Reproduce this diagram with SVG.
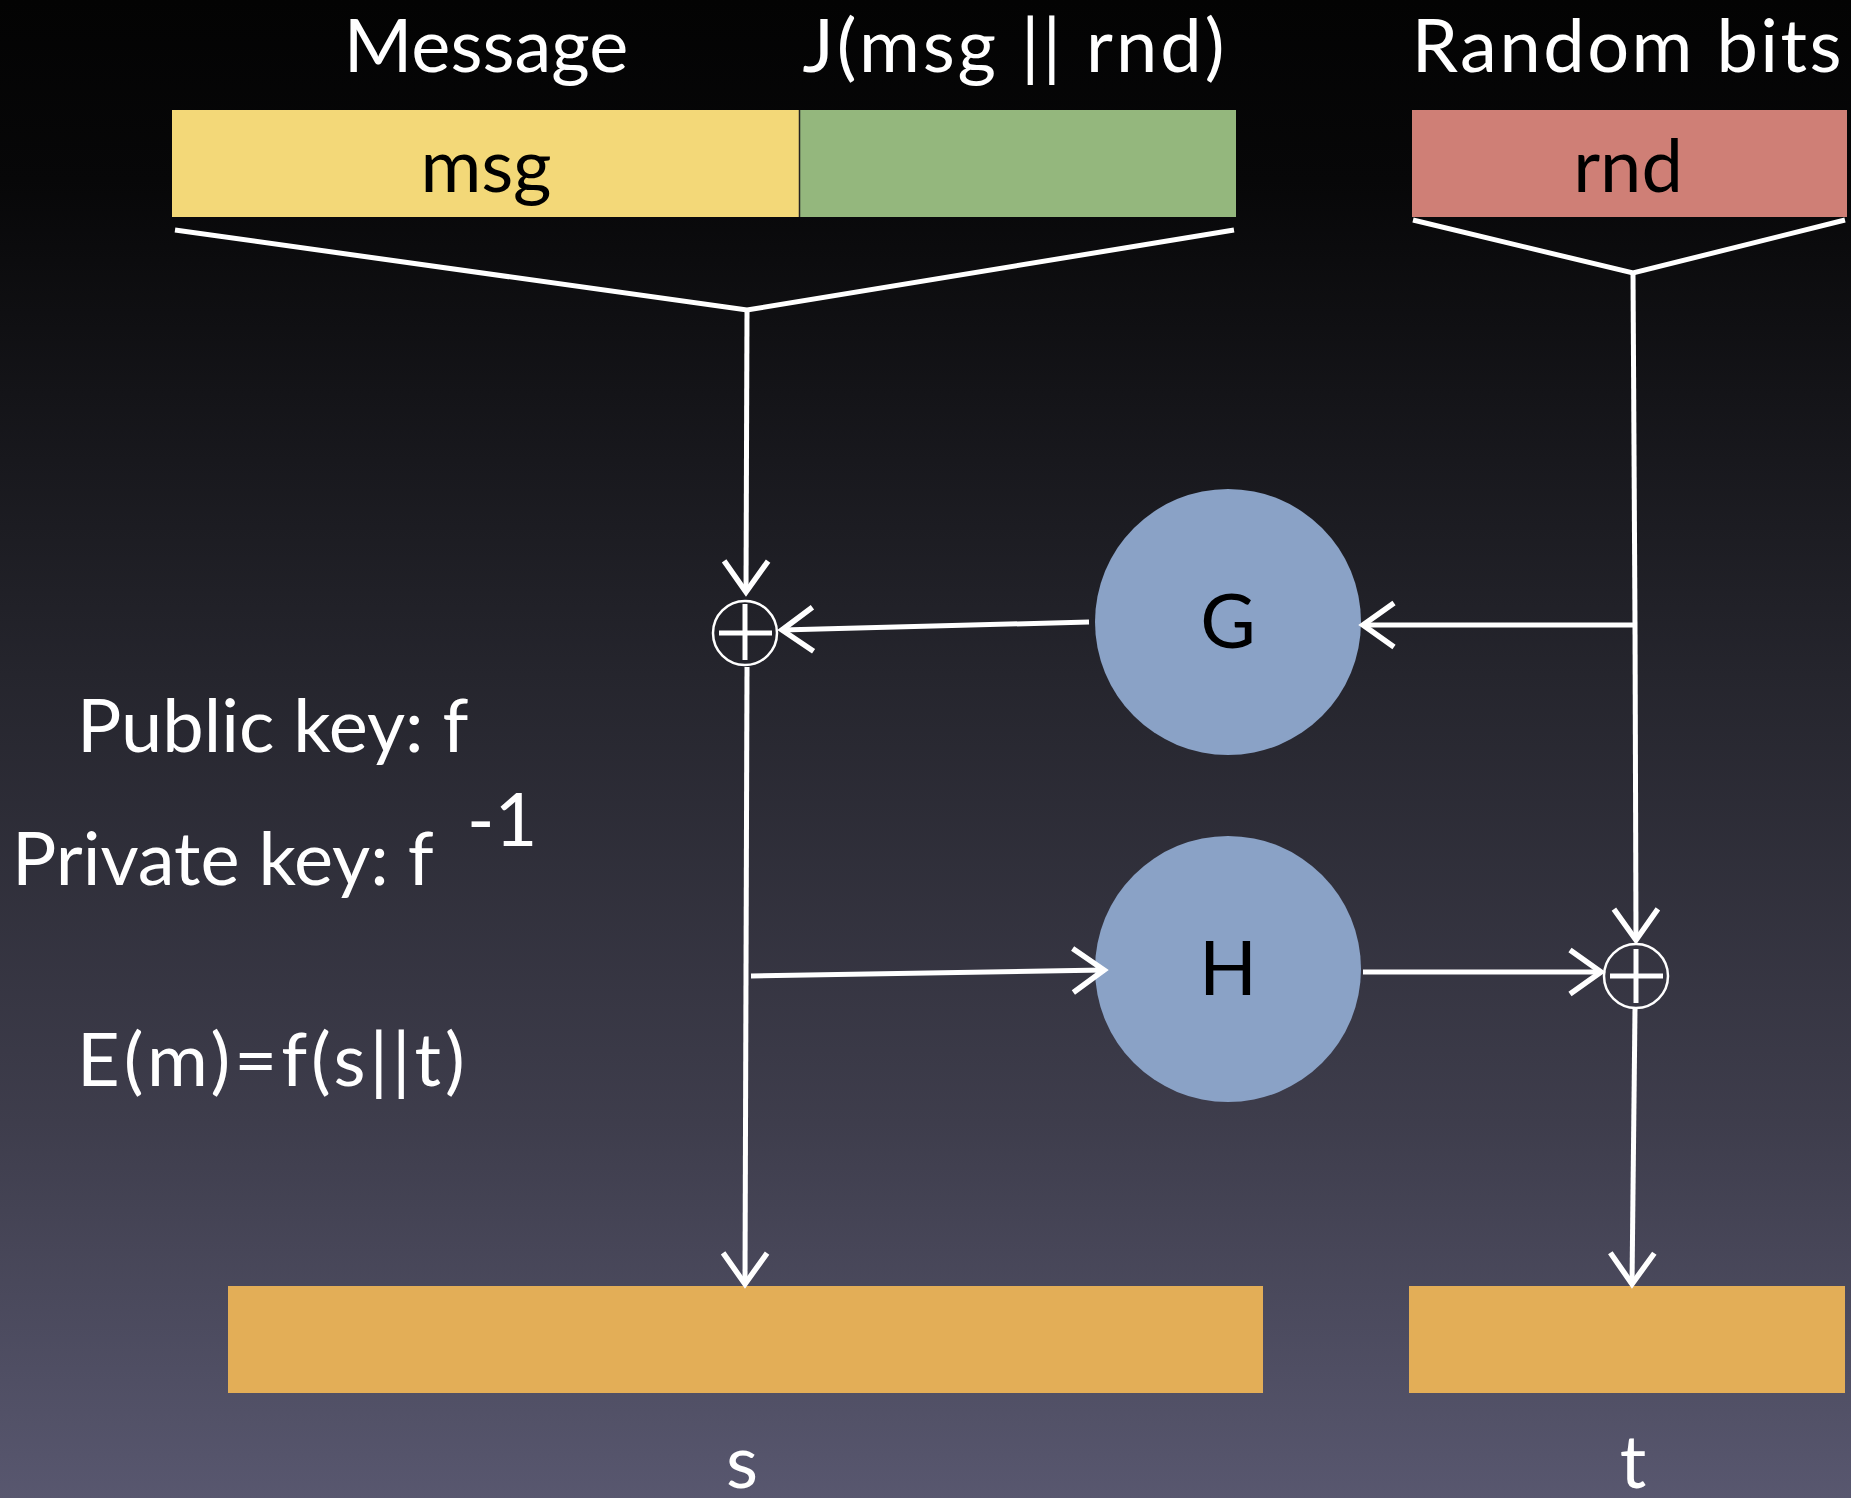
<svg xmlns="http://www.w3.org/2000/svg" width="1851" height="1498" viewBox="0 0 1851 1498">
<defs>
  <linearGradient id="bg" x1="0" y1="0" x2="0" y2="1">
    <stop offset="0" stop-color="#030303"/>
    <stop offset="0.12" stop-color="#070708"/>
    <stop offset="0.45" stop-color="#25252d"/>
    <stop offset="0.75" stop-color="#3e3d4c"/>
    <stop offset="1" stop-color="#58576f"/>
  </linearGradient>
  <marker id="arr" markerUnits="userSpaceOnUse" markerWidth="80" markerHeight="80" viewBox="-40 -40 80 80" refX="0" refY="0" orient="auto" overflow="visible">
    <path d="M-31,-22 L0,0 L-31,22" fill="none" stroke="#fff" stroke-width="5.5"/>
  </marker>
  <style>
    .t{font-family:Lato,"Liberation Sans",sans-serif;fill:#fff}
    .d{font-family:Lato,"Liberation Sans",sans-serif;fill:#000}
    .ln{stroke:#fff;stroke-width:5;fill:none}
    .ar{stroke:#fff;stroke-width:5;fill:none;marker-end:url(#arr)}
    .xc{fill:none;stroke:#fff;stroke-width:2.5}
    .xp{stroke:#fff;stroke-width:5}
    .fn{fill:#8aa2c6}
  </style>
</defs>
<rect x="0" y="0" width="1851" height="1498" fill="url(#bg)"/>

<g id="titles">
  <text class="t" x="486" y="72" font-size="74" text-anchor="middle">Message</text>
  <text class="t" x="1015" y="72" font-size="74" text-anchor="middle" letter-spacing="3">J(msg || rnd)</text>
  <text class="t" x="1628" y="72" font-size="74" text-anchor="middle" letter-spacing="2.5">Random bits</text>
</g>

<g id="msg">
  <rect x="172" y="110" width="627" height="107" fill="#f3d878"/>
  <text class="d" x="486" y="192" font-size="74" text-anchor="middle">msg</text>
</g>
<g id="pad">
  <rect x="800" y="110" width="436" height="107" fill="#94b77d"/>
</g>
<line x1="799.5" y1="110" x2="799.5" y2="217" stroke="#222" stroke-width="1.5"/>
<g id="rnd">
  <rect x="1412" y="110" width="435" height="107" fill="#cf7f76"/>
  <text class="d" x="1628" y="192" font-size="74" text-anchor="middle">rnd</text>
</g>

<g id="xor1">
  <circle class="xc" cx="745" cy="633" r="32"/>
  <line class="xp" x1="719" y1="633" x2="772" y2="633"/>
  <line class="xp" x1="745" y1="604" x2="745" y2="660"/>
</g>
<g id="xor2">
  <circle class="xc" cx="1636" cy="976" r="32"/>
  <line class="xp" x1="1610" y1="976" x2="1663" y2="976"/>
  <line class="xp" x1="1636" y1="949" x2="1636" y2="1003"/>
</g>

<g id="G">
  <circle class="fn" cx="1228" cy="622" r="133"/>
  <text class="d" x="1228" y="648" font-size="76" text-anchor="middle">G</text>
</g>
<g id="H">
  <circle class="fn" cx="1228" cy="969" r="133"/>
  <text class="d" x="1228" y="995" font-size="76" text-anchor="middle">H</text>
</g>

<g id="s">
  <rect x="228" y="1286" width="1035" height="107" fill="#e3ae57"/>
  <text class="t" x="742" y="1488" font-size="74" text-anchor="middle">s</text>
</g>
<g id="t">
  <rect x="1409" y="1286" width="436" height="107" fill="#e3ae57"/>
  <text class="t" x="1633" y="1488" font-size="74" text-anchor="middle">t</text>
</g>

<g id="keys">
  <text class="t" x="77" y="752" font-size="74">Public key: f</text>
  <text class="t" x="12" y="885" font-size="74">Private key: f</text>
  <text class="t" x="467" y="846" font-size="74">-1</text>
  <text class="t" x="77" y="1086" font-size="74" letter-spacing="4">E(m)=f(s||t)</text>
</g>

<g id="connectors">
  <polyline class="ln" points="175,230 747,310 1234,230"/>
  <polyline class="ln" points="1413,220 1633,273 1845,220"/>
  <line class="ar" x1="747" y1="310" x2="746" y2="592"/>
  <line class="ar" x1="1089" y1="622" x2="782" y2="630"/>
  <line class="ar" x1="1635" y1="625" x2="1363" y2="625"/>
  <line class="ln" x1="1633" y1="273" x2="1635" y2="625"/>
  <line class="ar" x1="1635" y1="625" x2="1636" y2="940"/>
  <line class="ar" x1="751" y1="976" x2="1104" y2="970"/>
  <line class="ar" x1="1363" y1="972" x2="1601" y2="972"/>
  <line class="ln" x1="747" y1="667" x2="746" y2="976"/>
  <line class="ar" x1="746" y1="976" x2="745" y2="1284"/>
  <line class="ar" x1="1635" y1="1009" x2="1632" y2="1284"/>
</g>
</svg>
